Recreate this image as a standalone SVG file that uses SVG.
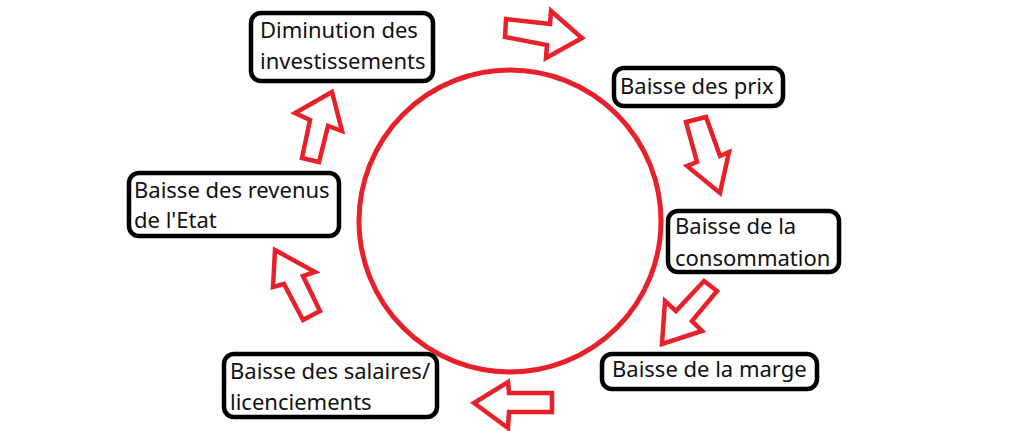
<svg xmlns="http://www.w3.org/2000/svg" width="1024" height="431" viewBox="0 0 1024 431">
<style>
.box{fill:#fff;stroke:#000;stroke-width:4.5}
.t{font-family:"Noto Sans","Open Sans",sans-serif;font-size:22px;fill:#111}
.arr{fill:#fff;stroke:#e8202a;stroke-width:4.5;stroke-linejoin:miter}
.ring{fill:none;stroke:#e8202a;stroke-width:5}
</style>
<rect width="1024" height="431" fill="#fff"/>
<circle class="ring" cx="510" cy="221" r="151"/>
<g id="connectors">
<polygon class="arr" points="506,19 550,24 551,11 582,38 546,58 547,45 505,37"/>
<polygon class="arr" points="686,122 706,117 720,156 729,152 720,193 687,166 697,162"/>
<polygon class="arr" points="704,281 717,291 692,321 702,331 662,344 665,301 676,311"/>
<polygon class="arr" points="474,403 508,382 509,393 552,393 552,412 509,412 508,428"/>
<polygon class="arr" points="275,250 315,272 303,276 320,311 303,320 284,284 273,287"/>
<polygon class="arr" points="332,92 342,131 328,126 319,162 302,158 310,120 295,113"/>
</g>
<g id="n1"><rect class="box" x="251" y="13" width="182" height="68" rx="10"/><text class="t" x="260" y="38">Diminution des</text><text class="t" x="260" y="69">investissements</text></g>
<g id="n2"><rect class="box" x="614" y="68" width="169" height="38" rx="10"/><text class="t" x="620" y="94">Baisse des prix</text></g>
<g id="n3"><rect class="box" x="668" y="211" width="171" height="61" rx="10"/><text class="t" x="675" y="234">Baisse de la</text><text class="t" x="675" y="266">consommation</text></g>
<g id="n4"><rect class="box" x="602" y="354" width="215" height="35" rx="10"/><text class="t" x="612" y="377">Baisse de la marge</text></g>
<g id="n5"><rect class="box" x="224" y="354" width="213" height="63" rx="10"/><text class="t" x="230" y="379">Baisse des salaires/</text><text class="t" x="230" y="410">licenciements</text></g>
<g id="n6"><rect class="box" x="129" y="173" width="210" height="63" rx="10"/><text class="t" x="134" y="198">Baisse des revenus</text><text class="t" x="134" y="228">de l'Etat</text></g>
</svg>
